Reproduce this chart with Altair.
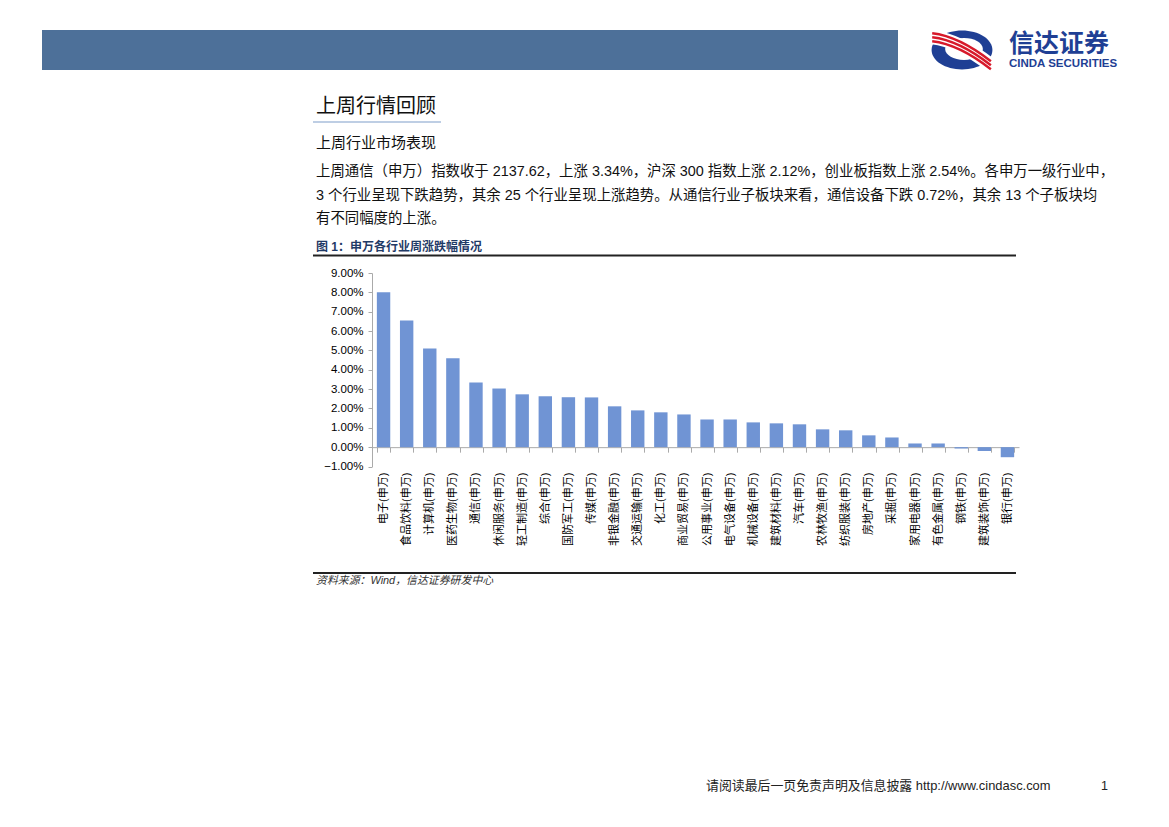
import altair as alt
import pandas as pd

# ---------------- data ----------------
industries = ["电子(申万)", "食品饮料(申万)", "计算机(申万)", "医药生物(申万)", "通信(申万)",
              "休闲服务(申万)", "轻工制造(申万)", "综合(申万)", "国防军工(申万)", "传媒(申万)",
              "非银金融(申万)", "交通运输(申万)", "化工(申万)", "商业贸易(申万)", "公用事业(申万)",
              "电气设备(申万)", "机械设备(申万)", "建筑材料(申万)", "汽车(申万)", "农林牧渔(申万)",
              "纺织服装(申万)", "房地产(申万)", "采掘(申万)", "家用电器(申万)", "有色金属(申万)",
              "钢铁(申万)", "建筑装饰(申万)", "银行(申万)"]
weekly_change = [0.0800, 0.0655, 0.0510, 0.0460, 0.0334, 0.0303, 0.0273, 0.0263, 0.0258, 0.0257,
                 0.0211, 0.0190, 0.0180, 0.0169, 0.0143, 0.0143, 0.0128, 0.0123, 0.0118, 0.0092,
                 0.0087, 0.0061, 0.0050, 0.0019, 0.0019, -0.0007, -0.0020, -0.0052]
y_ticks = [-0.01, 0.0, 0.01, 0.02, 0.03, 0.04, 0.05, 0.06, 0.07, 0.08, 0.09]

section_title = "上周行情回顾"
sub_title = "上周行业市场表现"
body_lines = [
    "上周通信（申万）指数收于 2137.62，上涨 3.34%，沪深 300 指数上涨 2.12%，创业板指数上涨 2.54%。各申万一级行业中，",
    "3 个行业呈现下跌趋势，其余 25 个行业呈现上涨趋势。从通信行业子板块来看，通信设备下跌 0.72%，其余 13 个子板块均",
    "有不同幅度的上涨。",
]
fig_caption = "图 1：申万各行业周涨跌幅情况"
source_note = "资料来源：Wind，信达证券研发中心"
footer_note = "请阅读最后一页免责声明及信息披露  http://www.cindasc.com"
page_no = "1"
logo_cn = "信达证券"
logo_en = "CINDA SECURITIES"

df = pd.DataFrame({"industry": industries, "change": weekly_change})

CJK = "Liberation Sans, Noto Sans CJK SC, sans-serif"

# plot origin on the page (page pixels)
OX, OY = 372, 273
W, H = 647, 193.5


def px(x):
    return x - OX


def py(y):
    return y - OY


one = alt.Data(values=[{"k": 1}])

# ---------------- bars ----------------
bars = alt.Chart(df).mark_bar(color="#7094d4").encode(
    x=alt.X("industry:N", sort=industries, title=None,
            scale=alt.Scale(paddingInner=0.42, paddingOuter=0.21),
            axis=alt.Axis(labelAngle=-90, offset=-H * 0.1, tickBand="extent",
                          tickSize=5, labelPadding=20, labelFont=CJK, labelFontSize=11,
                          labelColor="#000", domainColor="#aaaaaa", tickColor="#aaaaaa",
                          labelLimit=200)),
    y=alt.Y("change:Q", title=None,
            scale=alt.Scale(domain=[-0.01, 0.09], nice=False, zero=False),
            axis=alt.Axis(values=y_ticks, format=".2%", grid=False, tickSize=4,
                          labelPadding=5, labelFont="Liberation Sans", labelFontSize=11.5,
                          labelColor="#000", domainColor="#aaaaaa", tickColor="#aaaaaa",
                          labelFlush=False, labelOverlap=False)),
)


def txt(s, x, y, size, color="#111", weight="normal", style="normal", align="left", font=CJK):
    return alt.Chart(one).mark_text(align=align, baseline="middle", fontSize=size,
                                    font=font, fontWeight=weight, fontStyle=style,
                                    color=color).encode(
        x=alt.value(px(x)), y=alt.value(py(y)), text=alt.value(s))


def hline(x1, x2, y, color, width):
    return alt.Chart(one).mark_rule(color=color, strokeWidth=width).encode(
        x=alt.value(px(x1)), x2=alt.value(px(x2)), y=alt.value(py(y)))


header = alt.Chart(one).mark_rect(color="#4d7099").encode(
    x=alt.value(px(42)), x2=alt.value(px(898)), y=alt.value(py(30)), y2=alt.value(py(70)))

# logo graphic (approximate emblem)
ellipse_path = "M -1 0 A 1 0.64 0 1 0 1 0 A 1 0.64 0 1 0 -1 0 Z"
inner_path = "M -0.62 0 A 0.62 0.36 0 1 0 0.62 0 A 0.62 0.36 0 1 0 -0.62 0 Z"
stripe_path = "M -0.98 -0.42 Q -0.1 -0.32 0.95 0.5"
logo_blue = alt.Chart(one).mark_point(shape=ellipse_path, size=3700, filled=True,
                                      color="#1f3f94", opacity=1).encode(
    x=alt.value(px(962)), y=alt.value(py(50)))
logo_inner = alt.Chart(one).mark_point(shape=inner_path, size=3700, filled=True,
                                       color="#ffffff", opacity=1).encode(
    x=alt.value(px(964)), y=alt.value(py(49)))
logo_white = alt.Chart(one).mark_point(shape=stripe_path, size=3700, filled=False,
                                       color="white", strokeWidth=14, opacity=1).encode(
    x=alt.value(px(962)), y=alt.value(py(50)))
red_layers = []
for dy in (-4, 0, 4):
    red_layers.append(alt.Chart(one).mark_point(shape=stripe_path, size=3700, filled=False,
                                                color="#d7192a", strokeWidth=2.4,
                                                opacity=1).encode(
        x=alt.value(px(962)), y=alt.value(py(50 + dy))))

layers = [
    header,
    logo_blue, logo_inner, logo_white, *red_layers,
    txt(logo_cn, 1009, 44, 25, color="#1f3f94", weight="bold", font="Noto Sans CJK SC"),
    txt(logo_en, 1009, 64, 11.5, color="#1f3f94", weight="bold", font="Liberation Sans"),
    txt(section_title, 316, 107, 20),
    hline(313, 441, 122, "#a8bedb", 1.5),
    txt(sub_title, 316, 143, 15),
    txt(body_lines[0], 316, 172, 14.4),
    txt(body_lines[1], 316, 196, 14.4),
    txt(body_lines[2], 316, 219, 14.4),
    txt(fig_caption, 316, 247, 12, color="#1f3a66", weight="bold"),
    hline(313, 1016, 255.5, "#222222", 2),
    bars,
    hline(313, 1016, 573, "#222222", 2),
    txt(source_note, 316, 581, 10.9, color="#333333", style="italic"),
    txt(footer_note, 706, 786, 12.9, color="#222222"),
    txt(page_no, 1101, 786, 12.5, color="#222222", font="Liberation Sans"),
]

chart = alt.layer(*layers).properties(
    width=W, height=H,
    padding={"left": OX - 8, "top": OY - 8, "right": 1153 - (OX - 8) - W, "bottom": 350},
    autosize=alt.AutoSizeParams(type="none"),
    background="white",
).configure_view(stroke=None)

chart.save("out.html", embed_options={"renderer": "svg", "actions": False})
